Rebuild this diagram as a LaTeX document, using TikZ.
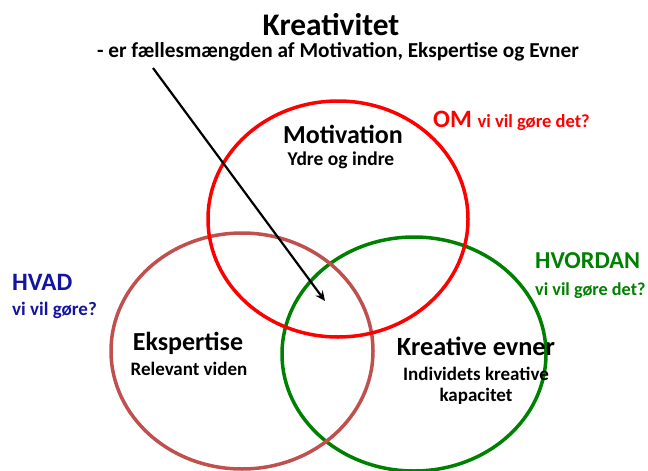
\documentclass[tikz,border=0pt]{standalone}
\usepackage{fontspec}
\setmainfont{Carlito}
\usetikzlibrary{arrows.meta}
\definecolor{omred}{RGB}{255,0,0}
\definecolor{ekspbrown}{RGB}{192,80,77}
\definecolor{hvgreen}{RGB}{0,128,0}
\definecolor{hvblue}{RGB}{20,20,160}

\begin{document}
\begin{tikzpicture}[x=1pt,y=-1pt,
	txt/.style={font=\bfseries, inner sep=0pt, anchor=base},
	ring/.style={line width=3.5pt}]
	\useasboundingbox (0,0) rectangle (648,471);
	% de tre cirkler
	\draw[ring,hvgreen] (414,354) ellipse [x radius=132, y radius=117];
	\draw[ring,ekspbrown] (242,351) ellipse [x radius=131, y radius=118];
	\draw[ring,omred] (338,219) ellipse [x radius=130, y radius=118];
	% overskrift
	\node[txt] (titel) at (331,35) {\fontsize{31.4}{33}\selectfont Kreativitet};
	\node[txt] (undertitel) at (338,57) {\fontsize{21.3}{23}\selectfont - er fællesmængden af Motivation, Ekspertise og Evner};
	% tekst i cirklerne
	\node[txt] (mot) at (343,143) {\fontsize{26}{28}\selectfont Motivation};
	\node[txt] (motsub) at (341,165) {\fontsize{19.5}{21}\selectfont Ydre og indre};
	\node[txt] (eksp) at (188,350) {\fontsize{26}{28}\selectfont Ekspertise};
	\node[txt] (ekspsub) at (189,375) {\fontsize{19}{21}\selectfont Relevant viden};
	\node[txt] (evner) at (476,355) {\fontsize{26.3}{28}\selectfont Kreative evner};
	\node[txt] (evnersub) at (476,380) {\fontsize{19}{21}\selectfont Individets kreative};
	\node[txt] (evnersubb) at (476,401) {\fontsize{19}{21}\selectfont kapacitet};
	% spoergsmaal
	\node[txt,anchor=base west,text=omred] (om) at (433,127) {\fontsize{25}{27}\selectfont OM \fontsize{18.5}{20}\selectfont vi vil gøre det?};
	\node[txt,anchor=base west,text=hvblue] (hvad) at (12,290) {\fontsize{25}{27}\selectfont HVAD};
	\node[txt,anchor=base west,text=hvblue] (hvadsub) at (12,315) {\fontsize{19}{21}\selectfont vi vil gøre?};
	\node[txt,anchor=base west,text=hvgreen] (hvordan) at (535,268) {\fontsize{24.3}{26}\selectfont HVORDAN};
	\node[txt,anchor=base west,text=hvgreen] (hvordansub) at (535,295) {\fontsize{18.2}{20}\selectfont vi vil gøre det?};
	% pil ind til faellesmaengden
	\coordinate (pilstart) at (153,68);
	\coordinate (snit) at (325,301);
	\draw[line width=2.2pt,arrows = {-Stealth[length=10pt,width=9pt]}] (pilstart)--(snit);
\end{tikzpicture}
\end{document}
